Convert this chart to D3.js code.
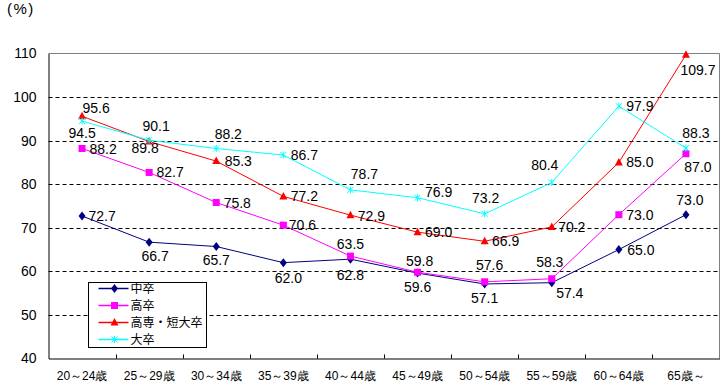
<!DOCTYPE html>
<html lang="ja">
<head>
<meta charset="UTF-8">
<title>学歴別 賃金カーブ</title>
<script src="https://d3js.org/d3.v7.min.js"></script>
<style>
  body { margin: 0; background: #fff; }
  svg { font-family: "Liberation Sans", Arial, "Noto Sans CJK JP", sans-serif; }
</style>
</head>
<body>
<script>
// data
const ageGroups = ["20～24歳", "25～29歳", "30～34歳", "35～39歳", "40～44歳",
                   "45～49歳", "50～54歳", "55～59歳", "60～64歳", "65歳～"];
const seriesNames = ["中卒", "高卒", "高専・短大卒", "大卒"];
const chusotsu  = [72.7, 66.7, 65.7, 62.0, 62.8, 59.6, 57.1, 57.4, 65.0, 73.0];
const kousotsu  = [88.2, 82.7, 75.8, 70.6, 63.5, 59.8, 57.6, 58.3, 73.0, 87.0];
const tandai    = [95.6, 89.8, 85.3, 77.2, 72.9, 69.0, 66.9, 70.2, 85.0, 109.7];
const daisotsu  = [94.5, 90.1, 88.2, 86.7, 78.7, 76.9, 73.2, 80.4, 97.9, 88.3];
const yTicks = [40, 50, 60, 70, 80, 90, 100, 110];

// label offsets (text centre relative to the marker), as placed in the original
const labelOffsets = [
  [[20,0],[6,14],[0,13],[5,15],[0,16],[0,14],[0,14],[18,10],[22,0],[4,-15]],
  [[21,0],[21,0],[21,0],[19,0],[0,-12],[2,-11],[5,-17],[-2,-17],[21,0],[12,13]],
  [[14,-8],[-4,6],[22,0],[21,0],[21,1],[21,0],[21,0],[20,0],[21,0],[12,15]],
  [[0,12],[7,-14],[12,-15],[21,0],[14,-16],[21,-6],[1,-16],[-7,-18],[21,0],[10,-15]]
];

const colors = ["#000080", "#FF00FF", "#FF0000", "#00FFFF"];
const markers = ["diamond", "square", "triangle", "star"];
const values = [chusotsu, kousotsu, tandai, daisotsu];

const W = 722, H = 385;
const plot = {left: 48.5, right: 719.5, top: 53.5, bottom: 358.5};

const svg = d3.select("body").append("svg")
  .attr("width", W).attr("height", H);

const x = d3.scaleBand().domain(ageGroups).range([plot.left, plot.right]);
const y = d3.scaleLinear().domain([40, 110]).range([plot.bottom, plot.top]);
const cx = d => x(d) + x.bandwidth() / 2;

// gridlines
svg.append("g").selectAll("line")
  .data(yTicks.filter(t => t > 40 && t < 110))
  .join("line")
  .attr("x1", plot.left).attr("x2", plot.right)
  .attr("y1", d => Math.round(y(d)) + 0.5).attr("y2", d => Math.round(y(d)) + 0.5)
  .attr("stroke", "#000").attr("stroke-dasharray", "4,3");

// frame (top/right grey)
svg.append("path")
  .attr("d", `M${plot.left},${plot.top}H${plot.right}V${plot.bottom}`)
  .attr("fill", "none").attr("stroke", "#808080");

// y axis
const yAxis = svg.append("g")
  .attr("transform", `translate(${plot.left},0)`)
  .call(d3.axisLeft(y).tickValues(yTicks).tickSize(0).tickPadding(12));
yAxis.select(".domain").attr("stroke", "#000");
yAxis.selectAll("text").attr("font-size", 14).attr("fill", "#000")
  .attr("font-family", "Liberation Sans, Arial");

// x axis
const xAxis = svg.append("g")
  .attr("transform", `translate(0,${plot.bottom})`)
  .call(d3.axisBottom(x).tickSize(0).tickPadding(13));
xAxis.select(".domain").attr("stroke", "#000").attr("stroke-width", 1.2);
xAxis.selectAll("text").attr("font-size", 12).attr("fill", "#000");
// tick marks between categories, pointing inward
svg.append("g").selectAll("line")
  .data(ageGroups.slice(1))
  .join("line")
  .attr("x1", d => Math.round(x(d)) + 0.5).attr("x2", d => Math.round(x(d)) + 0.5)
  .attr("y1", plot.bottom - 4).attr("y2", plot.bottom)
  .attr("stroke", "#000");

svg.append("text")
  .attr("x", 7).attr("y", 14)
  .attr("font-size", 15)
  .attr("letter-spacing", 1.5)
  .text("(%)");

function drawMarker(g, type, color) {
  if (type === "diamond") {
    g.append("path").attr("d", "M0,-4.5L3.5,0L0,4.5L-3.5,0Z").attr("fill", color);
  } else if (type === "square") {
    g.append("rect").attr("x", -3.5).attr("y", -3.5).attr("width", 7).attr("height", 7).attr("fill", color);
  } else if (type === "triangle") {
    g.append("path").attr("d", "M0,-4.5L4,3L-4,3Z").attr("fill", color);
  } else {
    g.append("path").attr("d", "M-3,-3L3,3M-3,3L3,-3M0,-3.5V3.5")
      .attr("stroke", color).attr("stroke-width", 1).attr("fill", "none");
  }
}

const line = d3.line().x(d => cx(d.cat)).y(d => y(d.v));

values.forEach((vals, si) => {
  const pts = vals.map((v, i) => ({cat: ageGroups[i], v, off: labelOffsets[si][i]}));
  const g = svg.append("g");
  g.append("path").datum(pts)
    .attr("d", line).attr("fill", "none")
    .attr("stroke", colors[si]).attr("stroke-width", 1);
  g.selectAll("g.mk").data(pts).join("g")
    .attr("class", "mk")
    .attr("transform", d => `translate(${cx(d.cat)},${y(d.v)})`)
    .each(function () { drawMarker(d3.select(this), markers[si], colors[si]); });
});

// data labels on top
values.forEach((vals, si) => {
  svg.append("g").selectAll("text")
    .data(vals.map((v, i) => ({cat: ageGroups[i], v, off: labelOffsets[si][i]})))
    .join("text")
    .attr("x", d => cx(d.cat) + d.off[0])
    .attr("y", d => y(d.v) + d.off[1])
    .attr("dy", "0.36em")
    .attr("text-anchor", "middle")
    .attr("font-size", 14)
    .attr("font-family", "Liberation Sans, Arial")
    .text(d => d.v.toFixed(1));
});

// legend
const legend = svg.append("g").attr("transform", "translate(88.5,282.5)");
legend.append("rect").attr("width", 118).attr("height", 65)
  .attr("fill", "#fff").attr("stroke", "#000");
seriesNames.forEach((name, i) => {
  const row = legend.append("g").attr("transform", `translate(0,${6 + i * 17})`);
  row.append("line").attr("x1", 10).attr("x2", 40)
    .attr("stroke", colors[i]).attr("stroke-width", 1.5);
  const m = row.append("g").attr("transform", "translate(26,0)");
  drawMarker(m, markers[i], colors[i]);
  row.append("text").attr("x", 42).attr("dy", "0.36em")
    .attr("font-size", 12).attr("font-family", "Noto Sans CJK JP")
    .text(name);
});
</script>
</body>
</html>
